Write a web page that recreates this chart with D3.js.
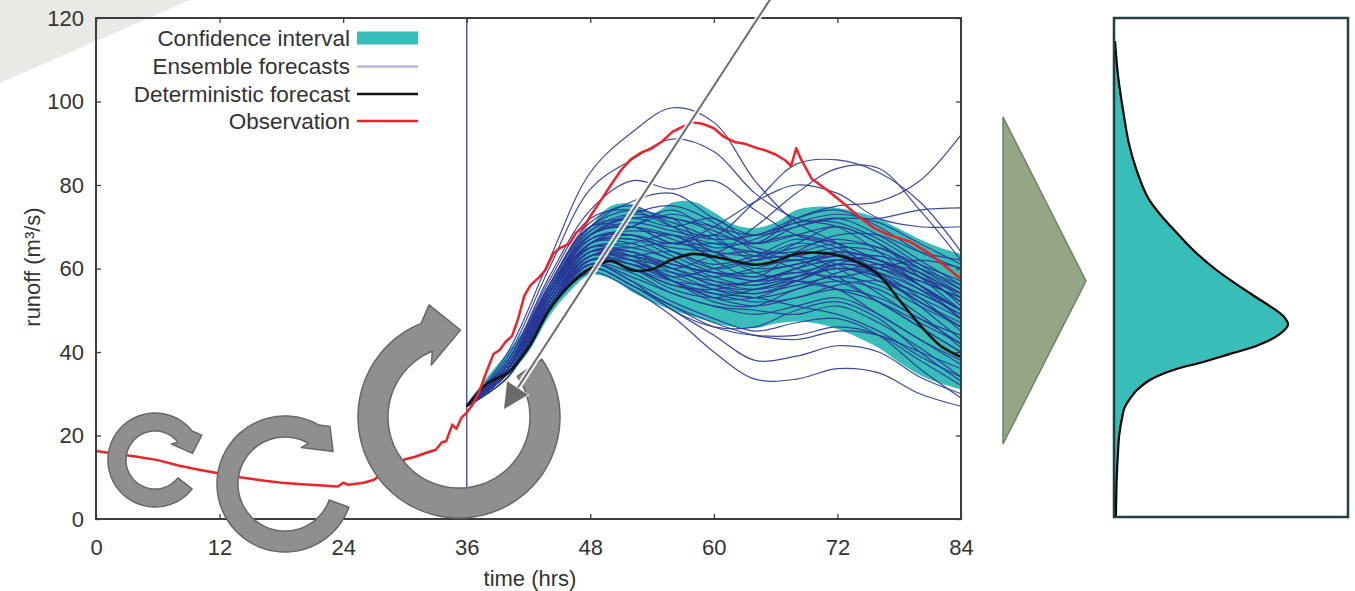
<!DOCTYPE html>
<html>
<head>
<meta charset="utf-8">
<script src="https://cdn.jsdelivr.net/npm/d3@7"></script>
<style>
  html, body { margin: 0; padding: 0; background: #fff; }
  svg { display: block; }
  text { font-family: "Liberation Sans", Arial, Helvetica, sans-serif; fill: #333; }
</style>
</head>
<body>
<svg id="fig" width="1355" height="591"></svg>
<script>
// ---------- data ----------
const xTicks = [0, 12, 24, 36, 48, 60, 72, 84];
const yTicks = [0, 20, 40, 60, 80, 100, 120];
const forecastStart = 36;

// observed runoff [time (hrs), m3/s]
const observation = [
  [0,16.3],[2,15.6],[4,14.9],[6,14.1],[8,12.8],[10,11.8],[12,10.9],[14,10.0],[16,9.3],
  [18,8.7],[20,8.3],[22,8.0],[23.5,7.8],[24,8.7],[24.5,8.2],[26,8.7],[27,9.4],[28,11.4],
  [29,12.9],[30,14.3],[31,14.9],[32,15.8],[33,16.6],[33.6,18.4],[34,18.6],[34.6,22.6],
  [35,21.6],[35.5,24.3],[36,25.5],[36.6,27.5],[37.2,30.4],[37.8,34.5],[38.2,37.0],
  [38.6,39.5],[39.2,40.5],[39.8,42.5],[40.4,43.8],[41,48.0],[41.6,53.5],[42.2,56.0],
  [43,57.8],[43.6,59.5],[44.4,63.5],[45,64.8],[46,66.0],[46.6,68.5],[47.4,70.0],[48,72.5],
  [49,76.2],[50,80.0],[51,83.6],[52,86.3],[53,87.8],[54,88.8],[55,90.5],[56,92.8],[57,94.0],
  [58,95.0],[59,94.6],[60,93.6],[61,91.5],[62,90.3],[63,89.9],[64,89.0],[65,88.3],[66,87.3],
  [67,85.8],[67.5,84.5],[68,88.8],[68.5,86.0],[69.5,81.5],[71,78.8],[72.5,75.8],[74,72.6],
  [75.5,69.8],[77,68.0],[79,66.5],[81,63.5],[82.5,60.5],[84,57.5]
];

// forecast horizon, 2-hourly
const bandTimes = [36,38,40,42,44,46,48,50,52,54,56,58,60,62,64,66,68,70,72,74,76,78,80,82,84];
const deterministic = [27,32.5,35,41,50,56,60,61.8,59.6,59.8,62.2,63.5,62.8,61.8,60.9,61.8,63.5,63.8,63.2,61.5,58.5,52.5,46.5,41.5,38.8];
const ciUpper = [27.5,34,40,47,56,64,70,75,75.5,73.2,75.8,76,73.5,70.5,69.7,71,74,74.8,74.5,73.5,72,69.5,67,65,63.5];
const ciLower = [26.8,31.5,34.5,40,48.5,54.5,58.5,57.5,54.5,52,50,48.5,47,46,45.7,46.8,47.3,46.8,45.5,43.5,41,37.5,34.5,32.5,31];

// ensemble members, 4-hourly
const memberTimes = [36,40,44,48,52,56,60,64,68,72,76,80,84];
const members = [
  [27,40,62,83,92.5,98.5,95,81,71,66,58,52,47],
  [27,39,60,79,86,91,88,78,72,70,64,56,50],
  [27,38,57,72,74,70,68,76,85,86,83,76,64],
  [27,38,56,70,72,72,64,70,78,84,84,74,62],
  [27,37,54,68,70,66,68,66,72,75,76,81,92],
  [27,37,55,70,76,78,72,68,70,72,72,74,74.5],
  [27,37,53,66,68,66,70,76,80,78,72,70,70],
  [27,38,58,74,81,79,81,74,68,66,62,58,54],
  [27,37,56,70,74,72,70,68,72,74,70,64,60],
  [27,37,55,68,72,70,72,66,70,72,68,62,56],
  [27,36,54,66,70,74,68,62,66,70,66,60,54],
  [27,37,55,68,70,66,66,66,68,66,62,58,52],
  [27,36,53,65,66,68,62,58,64,68,68,64,62],
  [27,36,52,64,64,60,63,64,62,64,62,56,50],
  [27,36,54,67,68,64,60,62,66,64,58,52,46],
  [27,35,52,63,63,64,60,57,60,62,60,56,50],
  [27,36,53,64,62,58,60,62,63,60,54,48,44],
  [27,35,51,62,62,60,56,54,57,60,58,52,46],
  [27,37,56,70,70,68,64,59,57,55,52,47,42],
  [27,35,51,62,60,56,55,57,59,57,52,46,40],
  [27,35,51,62,61,57,53,51,53,55,53,48,42],
  [27,36,53,65,63,57,52,51,55,57,55,49,41],
  [27,35,50,61,59,54,51,49,51,53,49,43,38],
  [27,35,52,63,62,57,53,53,57,61,59,53,45],
  [27,36,54,67,68,64,61,63,67,65,59,51,43],
  [27,35,50,61,58,54,51,50,49,51,47,41,34],
  [27,35,51,62,60,55,53,55,57,55,49,43,37],
  [27,37,55,69,72,72,69,65,63,61,57,53,48],
  [27,37,56,71,75,70,65,67,71,71,67,61,55],
  [27,36,54,68,73,75,71,64,60,58,60,62,60],
  [27,35,51,63,63,59,55,53,55,59,61,59,53],
  [27,35,50,62,60,56,54,53,51,49,45,39,34],
  [27,36,53,65,65,62,57,55,57,61,63,59,51],
  [27,36,53,66,70,73,70,66,68,70,66,58,50],
  [27,35,52,63,64,60,58,60,62,58,52,46,40],
  [27,36,54,66,66,62,58,56,60,64,62,56,48],
  [27,36,54,68,71,69,67,68,71,73,71,66,61],
  [27,36,53,66,67,65,64,63,65,67,65,61,57],
  [27,35,52,64,65,66,64,60,61,63,63,60,56],
  [27,36,53,65,64,61,59,58,59,61,60,57,53],
  [27,35,51,62,61,59,57,56,58,60,59,55,50],
  [27,36,54,67,69,68,66,64,64,66,65,60,55],
  [27,35,52,64,63,60,56,55,58,62,62,58,52],
  [27,36,53,66,67,63,59,57,58,60,58,54,49],
  [27,35,51,63,62,58,55,54,56,58,56,51,46],
  [27,36,54,68,70,67,63,61,62,63,61,57,53],
  [27,35,52,63,61,57,54,52,53,56,57,54,49],
  [27,36,55,69,73,71,67,63,63,65,64,59,54],
  [27,35,51,62,60,57,56,57,60,62,60,55,48],
  [27,35,52,64,63,61,59,59,61,63,61,56,50],
  [27,34,50,59,55,48.5,40,33.5,33.5,36,35,30,27],
  [27,34,50,60,56,50,44,38,39,41.5,40,34,30],
  [27,34,50,60,56,51,46,44,44,46,44,38,32],
  [27,35,51,61,57,52,48,45,47,48,44,36,29],
  [27,35,51,61,57,50,46,46,50,52,48,40,33],
  [27,34,50,60,56,51,47,44,43,45,44,40,36]
];

// forecast runoff distribution (relative density vs runoff)
const densityRunoff = [114.5,106,97,90,83.5,77,73,70,64.5,60,56,53,51,48.5,46.5,44.2,41.5,39.5,37.5,36,34.5,33,31,29.3,26.6,24.5,20,15,10,0.5];
const densityValue  = [0,0.018,0.05,0.08,0.125,0.19,0.26,0.325,0.45,0.575,0.71,0.82,0.895,0.975,1.0,0.95,0.82,0.66,0.5,0.36,0.26,0.19,0.13,0.095,0.055,0.042,0.024,0.016,0.01,0.005];

const legendLabels = ["Confidence interval", "Ensemble forecasts", "Deterministic forecast", "Observation"];

// ---------- drawing ----------
const svg = d3.select("#fig");
const plot = { left: 96, right: 961, top: 18, bottom: 519 };
const x = d3.scaleLinear().domain([0, 84]).range([plot.left, plot.right]);
const y = d3.scaleLinear().domain([0, 120]).range([plot.bottom, plot.top]);

const C = {
  teal: "#38bdb8", ens: "#2a3797", det: "#141414", obs: "#ee2229",
  now: "#4a5ab2", frame: "#3d3d3d", ring: "#8f8f8f", ringEdge: "#676767",
  arrow: "#6b6b6b", olive: "#95a687", oliveEdge: "#6f8163", box: "#21413e"
};

// soft grey corner behind the figure
svg.append("path")
  .attr("d", "M0,0 L190,0 L0,83 Z")
  .attr("fill", "#e9eae5");

// confidence interval band
const band = d3.area()
  .x((d, i) => x(bandTimes[i]))
  .y0((d, i) => y(ciLower[i]))
  .y1((d, i) => y(ciUpper[i]))
  .curve(d3.curveCatmullRom.alpha(0.5));
svg.append("path").datum(bandTimes).attr("d", band).attr("fill", C.teal);

// forecast issue time
svg.append("line")
  .attr("x1", x(forecastStart)).attr("x2", x(forecastStart))
  .attr("y1", plot.top).attr("y2", plot.bottom)
  .attr("stroke", C.now).attr("stroke-width", 1.5);

// ensemble members
const memberLine = d3.line()
  .x((d, i) => x(memberTimes[i]))
  .y(d => y(d))
  .curve(d3.curveCatmullRom.alpha(0.5));
svg.append("g").selectAll("path").data(members).join("path")
  .attr("d", memberLine)
  .attr("fill", "none")
  .attr("stroke", C.ens)
  .attr("stroke-width", 1.2)
  .attr("stroke-opacity", 0.9);

// deterministic forecast
const detLine = d3.line()
  .x((d, i) => x(bandTimes[i]))
  .y(d => y(d))
  .curve(d3.curveCatmullRom.alpha(0.5));
svg.append("path").datum(deterministic).attr("d", detLine)
  .attr("fill", "none").attr("stroke", C.det).attr("stroke-width", 2.6);

// observation
const obsLine = d3.line().x(d => x(d[0])).y(d => y(d[1]));
svg.append("path").datum(observation).attr("d", obsLine)
  .attr("fill", "none").attr("stroke", C.obs).attr("stroke-width", 2.5)
  .attr("stroke-linejoin", "round");

// frame and axes
svg.append("rect")
  .attr("x", plot.left).attr("y", plot.top)
  .attr("width", plot.right - plot.left).attr("height", plot.bottom - plot.top)
  .attr("fill", "none").attr("stroke", C.frame).attr("stroke-width", 2);

function styleAxis(g) {
  g.select(".domain").remove();
  g.selectAll(".tick line").attr("stroke", C.frame).attr("stroke-width", 1.3);
  g.selectAll(".tick text").attr("fill", "#333").style("font-size", "22px")
    .style("font-family", '"Liberation Sans", Arial, sans-serif');
}
svg.append("g").attr("transform", `translate(${plot.left},0)`)
  .call(d3.axisLeft(y).tickValues(yTicks).tickSize(-5).tickPadding(12)).call(styleAxis);
svg.append("g").attr("transform", `translate(${plot.right},0)`)
  .call(d3.axisRight(y).tickValues(yTicks).tickSize(-5).tickFormat("")).call(styleAxis);
svg.append("g").attr("transform", `translate(0,${plot.bottom})`)
  .call(d3.axisBottom(x).tickValues(xTicks).tickSize(-5).tickPadding(20)).call(styleAxis);
svg.append("g").attr("transform", `translate(0,${plot.top})`)
  .call(d3.axisTop(x).tickValues(xTicks).tickSize(-5).tickFormat("")).call(styleAxis);

svg.append("text")
  .attr("x", 530).attr("y", 586)
  .attr("text-anchor", "middle")
  .style("font-size", "22px")
  .text("time (hrs)");
svg.append("text")
  .attr("transform", "translate(40,267) rotate(-90)")
  .attr("text-anchor", "middle")
  .style("font-size", "22px")
  .text("runoff (m³/s)");

// legend
const legend = svg.append("g");
const legendRowY = [38, 66.5, 94, 121];
legendLabels.forEach((label, i) => {
  legend.append("text")
    .attr("x", 350).attr("y", legendRowY[i])
    .attr("dy", "0.35em")
    .attr("text-anchor", "end")
    .style("font-size", "22.5px")
    .text(label);
});
legend.append("rect").attr("x", 357).attr("y", legendRowY[0] - 6.5)
  .attr("width", 61).attr("height", 13).attr("fill", C.teal);
legend.append("line").attr("x1", 357).attr("x2", 418)
  .attr("y1", legendRowY[1]).attr("y2", legendRowY[1])
  .attr("stroke", "#b3b8e0").attr("stroke-width", 2.5);
legend.append("line").attr("x1", 357).attr("x2", 418)
  .attr("y1", legendRowY[2]).attr("y2", legendRowY[2])
  .attr("stroke", C.det).attr("stroke-width", 2.5);
legend.append("line").attr("x1", 357).attr("x2", 418)
  .attr("y1", legendRowY[3]).attr("y2", legendRowY[3])
  .attr("stroke", C.obs).attr("stroke-width", 2.5);

// circular arrows: clockwise ring with an arrowhead at its end
function ringArrow(r) {
  const rad = a => a * Math.PI / 180;
  const pt = (rr, a) => [r.cx + rr * Math.cos(rad(a)), r.cy + rr * Math.sin(rad(a))];
  const pts = [];
  const n = 90;
  for (let i = 0; i <= n; i++) pts.push(pt(r.rOut, r.a0 + (r.aB - r.a0) * i / n));
  pts.push(pt(r.rOutW, r.aOut));
  pts.push(pt(r.rT, r.aT));
  pts.push(pt(r.rInW, r.aIn));
  for (let i = 0; i <= n; i++) pts.push(pt(r.rIn, r.aB - (r.aB - r.a0) * i / n));
  return d3.line().curve(d3.curveLinearClosed)(pts);
}
const rings = [
  { cx: 155, cy: 460, rIn: 29, rOut: 47, a0: 38, aB: 322, aOut: 332, rOutW: 53, aIn: 316, rInW: 23, aT: 350, rT: 38 },
  { cx: 285, cy: 484, rIn: 47, rOut: 68, a0: 20, aB: 300, aOut: 308, rOutW: 73, aIn: 294, rInW: 40, aT: 326, rT: 58 },
  { cx: 459, cy: 417, rIn: 71, rOut: 101, a0: -35, aB: 248, aOut: 255, rOutW: 116, aIn: 242, rInW: 59, aT: 271, rT: 87 }
];
svg.append("g").selectAll("path").data(rings).join("path")
  .attr("d", ringArrow)
  .attr("fill", C.ring)
  .attr("stroke", C.ringEdge)
  .attr("stroke-width", 1.5)
  .attr("stroke-linejoin", "round");

// pointer from the distribution panel down to the forecast start
const tip = [504, 409], from = [771, -2];
const len = Math.hypot(tip[0] - from[0], tip[1] - from[1]);
const u = [(tip[0] - from[0]) / len, (tip[1] - from[1]) / len];
const nrm = [-u[1], u[0]];
const headLen = 25, headHalf = 12.5;
const base = [tip[0] - u[0] * headLen, tip[1] - u[1] * headLen];
const pointer = svg.append("g");
pointer.append("line")
  .attr("x1", from[0]).attr("y1", from[1]).attr("x2", base[0]).attr("y2", base[1])
  .attr("stroke", "#fff").attr("stroke-width", 6).attr("stroke-opacity", 0.85);
pointer.append("line")
  .attr("x1", from[0]).attr("y1", from[1]).attr("x2", base[0]).attr("y2", base[1])
  .attr("stroke", C.arrow).attr("stroke-width", 2);
pointer.append("path")
  .attr("d", d3.line()([
    tip,
    [base[0] + nrm[0] * headHalf, base[1] + nrm[1] * headHalf],
    [base[0] - nrm[0] * headHalf, base[1] - nrm[1] * headHalf]
  ]) + "Z")
  .attr("fill", C.arrow).attr("stroke", "#fff").attr("stroke-width", 1.5)
  .attr("paint-order", "stroke");

// chevron between the panels
svg.append("path")
  .attr("d", "M1003,117 L1086,281 L1003,444 Z")
  .attr("fill", C.olive).attr("stroke", C.oliveEdge).attr("stroke-width", 1.5);

// distribution panel
const panel = { left: 1114, right: 1348, top: 18, bottom: 517 };
const xd = d3.scaleLinear().domain([0, 1]).range([panel.left + 1, 1288]);
const densityArea = d3.area()
  .y((d, i) => y(densityRunoff[i]))
  .x0(panel.left)
  .x1((d, i) => xd(densityValue[i]))
  .curve(d3.curveCatmullRom.alpha(0.5));
const densityLine = d3.line()
  .y((d, i) => y(densityRunoff[i]))
  .x((d, i) => xd(densityValue[i]))
  .curve(d3.curveCatmullRom.alpha(0.5));
svg.append("path").datum(densityValue).attr("d", densityArea).attr("fill", C.teal);
svg.append("path").datum(densityValue).attr("d", densityLine)
  .attr("fill", "none").attr("stroke", "#000").attr("stroke-width", 2.2);
svg.append("rect")
  .attr("x", panel.left).attr("y", panel.top)
  .attr("width", panel.right - panel.left).attr("height", panel.bottom - panel.top)
  .attr("fill", "none").attr("stroke", C.box).attr("stroke-width", 2.5);
</script>
</body>
</html>
